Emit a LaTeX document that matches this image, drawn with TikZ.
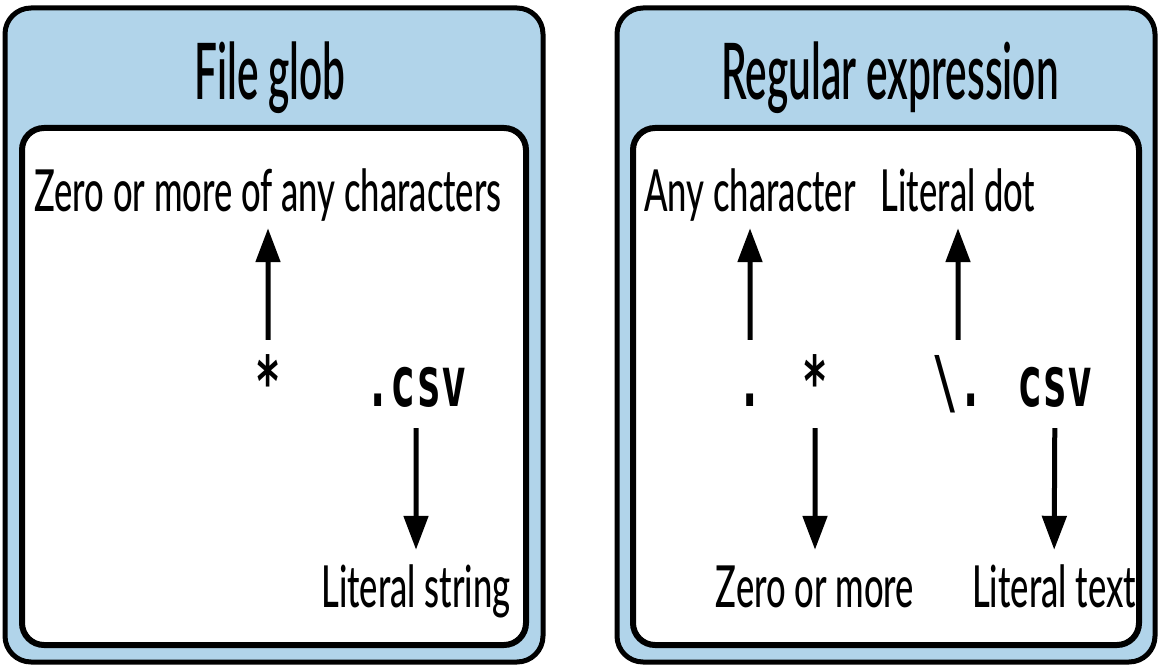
\documentclass[tikz,border=0pt]{standalone}
\usepackage{fontspec}
\setmainfont{Lato Medium}
\setmonofont{DejaVu Sans Mono}
\newfontfamily\titlefont{Lato Semibold}
\usetikzlibrary{arrows.meta}
\definecolor{panelblue}{HTML}{B1D4EA}

\begin{document}
\begin{tikzpicture}[x=1pt,y=-1pt,>={Triangle[width=24pt,length=34pt]}]
\tikzstyle{outer} = [draw, fill=panelblue, rounded corners=26pt, line width=5pt]
\tikzstyle{inner} = [draw, fill=white, rounded corners=22pt, line width=6pt]
\tikzstyle{title} = [anchor=base, inner sep=0pt, xscale=0.52, font=\fontsize{78}{84}\selectfont\titlefont]
\tikzstyle{label} = [anchor=base, inner sep=2pt, xscale=0.595, text height=55pt, text depth=14pt, font=\fontsize{58}{60}\selectfont]
\tikzstyle{code} = [anchor=base, inner sep=0pt, xscale=0.6, text height=60pt, text depth=16pt, font=\fontsize{70}{72}\selectfont\ttfamily\bfseries]
\tikzstyle{arr} = [->, line width=5pt, shorten <=6pt]
\useasboundingbox (0,0) rectangle (1159,668);
% the two panels
\draw[outer] (5,8) rectangle (543,662);
\draw[outer] (617,8) rectangle (1155,662);
\draw[inner] (22,128) rectangle (526,645);
\draw[inner] (633,128) rectangle (1139,645);
\node[title] (glob) at (270,100) {File glob};
\node[title] (regex) at (890,100) {Regular expression};
% file glob
\node[label] (anychars) at (268,212) {Zero or more of any characters};
\node[code] (star) at (268,406) {*};
\node[code] (csv) at (416,406) {.csv};
\node[label] (litstring) at (416,607) {Literal string};
% regular expression
\node[label] (anychar) at (750,212) {Any character};
\node[label] (litdot) at (958,212) {Literal dot};
\node[code] (dot) at (750,406) {.};
\node[code] (star2) at (815,406) {*};
\node[code] (escdot) at (958,406) {\textbackslash.};
\node[code] (csv2) at (1055,406) {csv};
\node[label] (zero) at (815,607) {Zero or more};
\node[label] (littext) at (1054,607) {Literal text};
\path[arr] (star) edge (anychars)
      (csv) edge (litstring)
      (dot) edge (anychar)
      (escdot) edge (litdot)
      (star2) edge (zero)
      (csv2) edge (littext);
\end{tikzpicture}
\end{document}
